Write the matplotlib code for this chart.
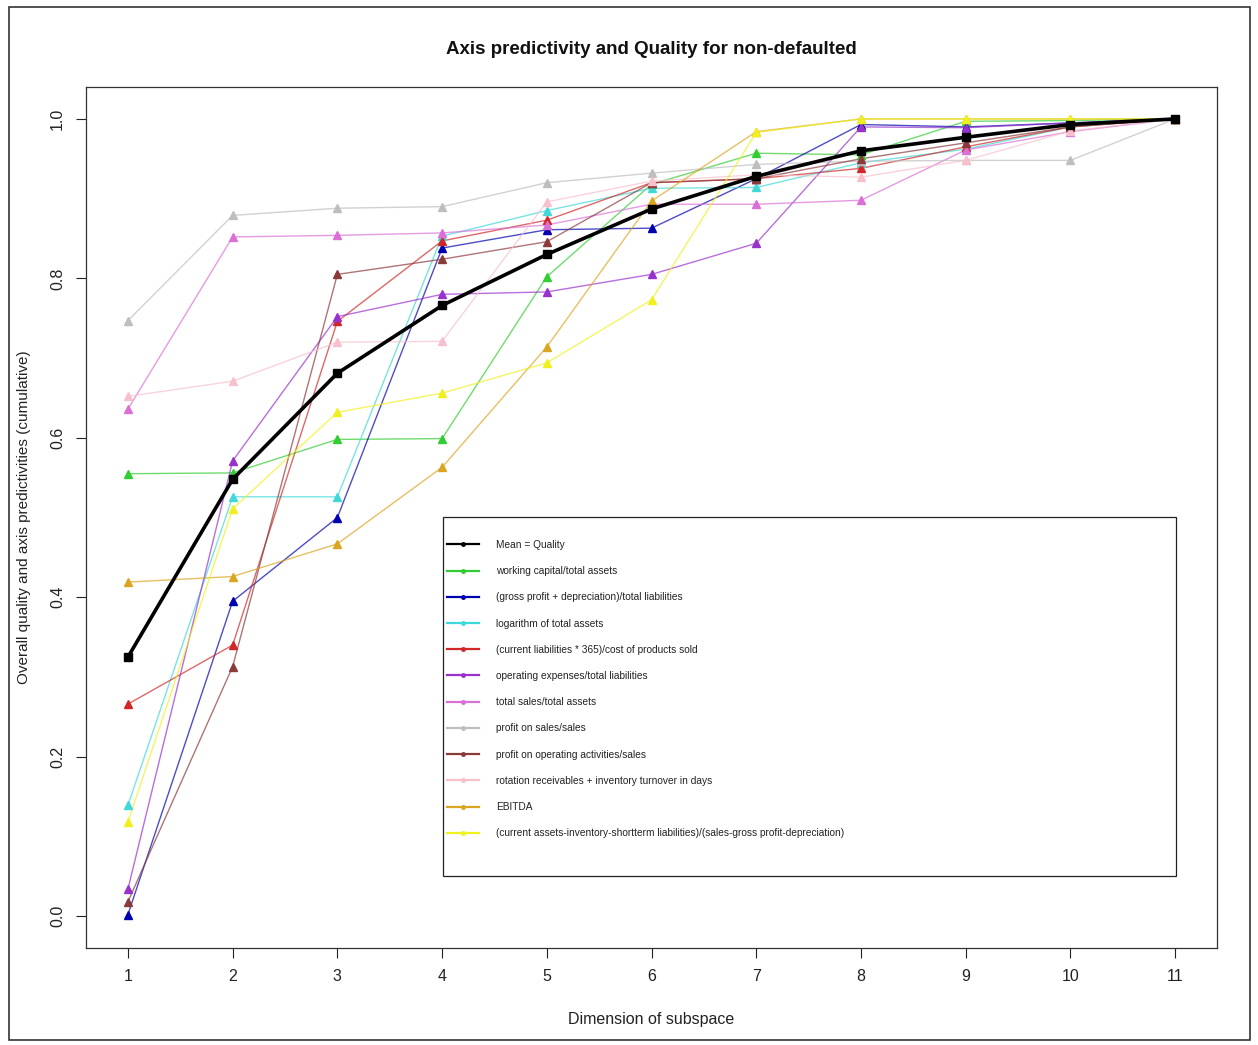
import matplotlib
matplotlib.use("Agg")
import matplotlib.pyplot as plt
from matplotlib.lines import Line2D
from matplotlib.patches import Rectangle

plt.rcParams['font.family'] = ['Liberation Sans', 'DejaVu Sans']

dims = [1, 2, 3, 4, 5, 6, 7, 8, 9, 10, 11]

mean_quality = [0.325, 0.548, 0.681, 0.766, 0.830, 0.887, 0.928, 0.960, 0.977, 0.993, 1.0]
working_capital = [0.555, 0.556, 0.598, 0.599, 0.802, 0.918, 0.957, 0.955, 0.997, 0.998, 1.0]
gross_profit = [0.002, 0.395, 0.500, 0.838, 0.861, 0.863, 0.925, 0.993, 0.990, 0.995, 1.0]
log_assets = [0.139, 0.526, 0.526, 0.853, 0.885, 0.913, 0.914, 0.945, 0.962, 0.990, 1.0]
current_liab = [0.266, 0.340, 0.746, 0.847, 0.873, 0.920, 0.925, 0.938, 0.965, 0.990, 1.0]
operating_exp = [0.034, 0.571, 0.752, 0.780, 0.783, 0.805, 0.844, 0.990, 0.989, 0.995, 1.0]
total_sales = [0.636, 0.852, 0.854, 0.857, 0.867, 0.893, 0.893, 0.898, 0.961, 0.984, 1.0]
profit_sales = [0.747, 0.879, 0.888, 0.890, 0.920, 0.932, 0.943, 0.947, 0.948, 0.948, 1.0]
profit_operating = [0.018, 0.313, 0.805, 0.824, 0.846, 0.920, 0.925, 0.950, 0.970, 0.990, 1.0]
rotation = [0.652, 0.671, 0.720, 0.721, 0.896, 0.922, 0.930, 0.927, 0.948, 0.985, 1.0]
ebitda = [0.419, 0.426, 0.467, 0.563, 0.714, 0.897, 0.984, 1.0, 1.0, 1.0, 1.0]
current_assets = [0.118, 0.511, 0.632, 0.656, 0.694, 0.773, 0.983, 1.0, 1.0, 1.0, 1.0]

labels = [
    "working capital/total assets",
    "(gross profit + depreciation)/total liabilities",
    "logarithm of total assets",
    "(current liabilities * 365)/cost of products sold",
    "operating expenses/total liabilities",
    "total sales/total assets",
    "profit on sales/sales",
    "profit on operating activities/sales",
    "rotation receivables + inventory turnover in days",
    "EBITDA",
    "(current assets-inventory-shortterm liabilities)/(sales-gross profit-depreciation)",
]
series = [working_capital, gross_profit, log_assets, current_liab, operating_exp,
          total_sales, profit_sales, profit_operating, rotation, ebitda, current_assets]
colors = ["#32CD32", "#0000B0", "#40D8D8", "#D02828", "#9932CC", "#DA70D6",
          "#BEBEBE", "#8B3A3A", "#F8C0CC", "#DAA520", "#F0F020"]

fig = plt.figure(figsize=(12.58, 10.45), dpi=100)
ax = fig.add_axes([0.0684, 0.0928, 0.899, 0.8239])

for vals, c in zip(series, colors):
    ax.plot(dims, vals, color=c, lw=1.0, alpha=0.7, zorder=2)
    ax.plot(dims, vals, ls='none', marker='^', ms=6, color=c,
            markeredgecolor=c, zorder=3)

ax.plot(dims, mean_quality, color='black', lw=2.6, zorder=4)
ax.plot(dims, mean_quality, ls='none', marker='s', ms=5.5, color='black', zorder=5)

ax.set_xlim(0.6, 11.4)
ax.set_ylim(-0.04, 1.04)
ax.set_xticks(dims)
ax.set_xticklabels([str(d) for d in dims])
yt = [0.0, 0.2, 0.4, 0.6, 0.8, 1.0]
ax.set_yticks(yt)
ax.set_yticklabels([f"{v:.1f}" for v in yt], rotation=90, va='center')
ax.tick_params(axis='both', direction='out', length=7, labelsize=11.5,
               colors='#222222', width=0.8)
ax.tick_params(axis='x', pad=8)
ax.tick_params(axis='y', pad=8)
for s in ax.spines.values():
    s.set_linewidth(0.9)
    s.set_color('#333333')

ax.set_title("Axis predictivity and Quality for non-defaulted", fontsize=13.5,
             fontweight='bold', pad=24, color='#111111')
ax.set_xlabel("Dimension of subspace", fontsize=11.5, labelpad=20, color='#222222')
ax.set_ylabel("Overall quality and axis predictivities (cumulative)", fontsize=11,
              labelpad=14, color='#222222')

# legend
handles = [Line2D([0], [0], color='black', lw=1.6, marker='o', ms=2.5)]
for c in colors:
    handles.append(Line2D([0], [0], color=c, lw=1.6, marker='o', ms=2.5))
leg_labels = ["Mean = Quality"] + labels
leg = ax.legend(handles, leg_labels, loc='upper left',
                bbox_to_anchor=(0.319, 0.474), frameon=False, fontsize=7.3,
                handlelength=3.2, handletextpad=1.7, labelspacing=1.6,
                borderpad=0, borderaxespad=0, numpoints=1)
for t in leg.get_texts():
    t.set_color('#222222')
ax.add_patch(Rectangle((0.3157, 0.0836), 0.648, 0.417, transform=ax.transAxes,
                       fill=False, edgecolor='#222222', lw=0.9, zorder=6))

# outer frame
fig.add_artist(Rectangle((0.007, 0.005), 0.987, 0.988, transform=fig.transFigure,
                         fill=False, edgecolor='#333333', lw=1.2))

fig.savefig("out.png", dpi=100, facecolor='white')
